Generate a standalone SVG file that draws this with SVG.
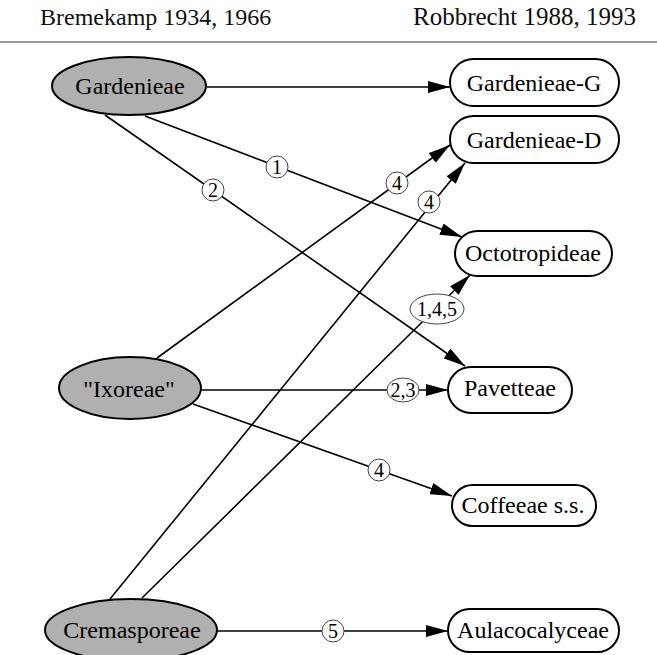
<svg xmlns="http://www.w3.org/2000/svg" width="657" height="655" viewBox="0 0 657 655">
<style>
.hdr{font-family:"Liberation Serif","Times New Roman",serif;font-size:24px;fill:#111}
.nt{font-family:"Liberation Serif","Times New Roman",serif;font-size:24px;fill:#000;text-anchor:middle}
.lt{font-family:"Liberation Serif","Times New Roman",serif;font-size:20px;fill:#000;text-anchor:middle}
.ell{fill:#b0b0b0;stroke:#000;stroke-width:2}
.box{fill:#fff;stroke:#000;stroke-width:2}
.edgeA{fill:none;stroke:#000;stroke-width:1.6;marker-end:url(#ah)}
.lbl{fill:#fff;stroke:#444;stroke-width:1}
</style>
<defs>
<marker id="ah" markerUnits="userSpaceOnUse" markerWidth="22" markerHeight="12" refX="22" refY="6" orient="auto" viewBox="0 0 22 12">
<path d="M0,0 L22,6 L0,12 z" fill="#000"/>
</marker>
</defs>
<g id="header">
<text class="hdr" x="40" y="25">Bremekamp 1934, 1966</text>
<text class="hdr" x="413" y="25" style="font-size:25px">Robbrecht 1988, 1993</text>
<line x1="0" y1="42" x2="657" y2="42" stroke="#777" stroke-width="1.5"/>
</g>
<g id="connectors">
<line class="edgeA" x1="207" y1="87" x2="450" y2="87"/>
<line class="edgeA" x1="145" y1="116" x2="462" y2="237"/>
<line class="edgeA" x1="105" y1="115" x2="465" y2="366"/>
<line class="edgeA" x1="157" y1="358" x2="450" y2="145"/>
<line class="edgeA" x1="110" y1="599" x2="465" y2="163"/>
<line class="edgeA" x1="142" y1="598" x2="470" y2="275"/>
<line class="edgeA" x1="201" y1="390" x2="448" y2="390"/>
<line class="edgeA" x1="193" y1="404" x2="452" y2="496"/>
<line class="edgeA" x1="217" y1="631" x2="448" y2="631"/>
<g id="edge-labels">
<circle class="lbl" cx="277" cy="167" r="11"/><text class="lt" x="277" y="174">1</text>
<circle class="lbl" cx="213" cy="190" r="11"/><text class="lt" x="213" y="197">2</text>
<circle class="lbl" cx="397" cy="183" r="11"/><text class="lt" x="397" y="190">4</text>
<circle class="lbl" cx="429" cy="202" r="11"/><text class="lt" x="429" y="209">4</text>
<ellipse class="lbl" cx="437" cy="309" rx="27" ry="15"/><text class="lt" x="437" y="316">1,4,5</text>
<ellipse class="lbl" cx="403" cy="390" rx="16" ry="12"/><text class="lt" x="403" y="397">2,3</text>
<circle class="lbl" cx="379" cy="470" r="11"/><text class="lt" x="379" y="477">4</text>
<circle class="lbl" cx="333" cy="631" r="11"/><text class="lt" x="333" y="638">5</text>
</g>
</g>
<g id="n-gardenieae"><ellipse class="ell" cx="129" cy="86" rx="77" ry="29"/><text class="nt" x="130" y="94">Gardenieae</text></g>
<g id="n-ixoreae"><ellipse class="ell" cx="130" cy="388" rx="71" ry="31"/><text class="nt" x="129" y="397">"Ixoreae"</text></g>
<g id="n-cremasporeae"><ellipse class="ell" cx="131" cy="630" rx="86" ry="31"/><text class="nt" x="132" y="638">Cremasporeae</text></g>
<g id="n-gardenieae-g"><rect class="box" x="450" y="59" width="169" height="47" rx="23.5"/><text class="nt" x="534" y="91">Gardenieae-G</text></g>
<g id="n-gardenieae-d"><rect class="box" x="450" y="116" width="169" height="47" rx="23.5"/><text class="nt" x="534" y="148">Gardenieae-D</text></g>
<g id="n-octotropideae"><rect class="box" x="455" y="231" width="157" height="45" rx="22.5"/><text class="nt" x="533" y="261">Octotropideae</text></g>
<g id="n-pavetteae"><rect class="box" x="448" y="367" width="124" height="46" rx="23"/><text class="nt" x="510" y="396">Pavetteae</text></g>
<g id="n-coffeeae"><rect class="box" x="452" y="485" width="144" height="41" rx="20.5"/><text class="nt" x="523" y="513">Coffeeae s.s.</text></g>
<g id="n-aulacocalyceae"><rect class="box" x="448" y="609" width="171" height="43" rx="21.5"/><text class="nt" x="533" y="638">Aulacocalyceae</text></g>
</svg>
